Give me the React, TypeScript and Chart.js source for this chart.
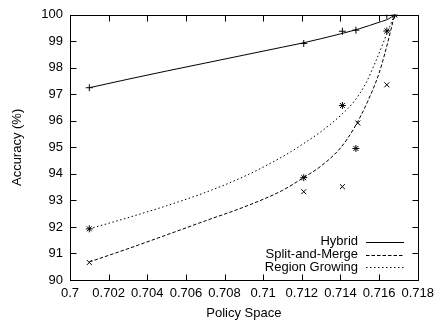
import React, { useEffect, useRef } from "react";
import { Chart, registerables } from "chart.js";

Chart.register(...registerables);

// Tick labels
const xTickValues = [0.7, 0.702, 0.704, 0.706, 0.708, 0.71, 0.712, 0.714, 0.716, 0.718];
const xTickLabels = ["0.7", "0.702", "0.704", "0.706", "0.708", "0.71", "0.712", "0.714", "0.716", "0.718"];
const yTickValues = [90, 91, 92, 93, 94, 95, 96, 97, 98, 99, 100];

// Measured points
const hybridX = [0.701, 0.7121, 0.7141, 0.7148, 0.7164, 0.7168];
const hybridY = [97.25, 98.92, 99.38, 99.42, 99.98, 100];
const splitX = [0.701, 0.7121, 0.7141, 0.7149, 0.7164, 0.7168];
const splitY = [90.66, 93.33, 93.52, 95.92, 97.36, 100];
const regionX = [0.701, 0.7121, 0.7141, 0.7148, 0.7164, 0.7168];
const regionY = [91.93, 93.86, 96.58, 94.96, 99.39, 100];

// Fitted curves
const hybridCurveX = [0.701, 0.703, 0.705, 0.707, 0.709, 0.711, 0.712, 0.713, 0.714, 0.715, 0.716, 0.7165, 0.7168];
const hybridCurveY = [97.25, 97.57, 97.88, 98.18, 98.48, 98.78, 98.93, 99.1, 99.28, 99.48, 99.72, 99.85, 100];
const splitCurveX = [0.701, 0.703, 0.705, 0.707, 0.709, 0.711, 0.712, 0.713, 0.714, 0.7147, 0.7154, 0.716, 0.7163, 0.7166, 0.7168];
const splitCurveY = [90.68, 91.18, 91.7, 92.23, 92.75, 93.38, 93.82, 94.3, 94.98, 95.72, 96.72, 97.8, 98.55, 99.4, 100];
const regionCurveX = [0.701, 0.703, 0.705, 0.707, 0.709, 0.711, 0.712, 0.713, 0.714, 0.7147, 0.7153, 0.7158, 0.7163, 0.7168];
const regionCurveY = [91.93, 92.35, 92.8, 93.3, 93.9, 94.65, 95.1, 95.6, 96.2, 96.73, 97.4, 98.2, 99.1, 100];

const legendLabels = ["Hybrid", "Split-and-Merge", "Region Growing"];
const legendDashes: number[][] = [[], [3.5, 2], [1.5, 2.5]];

const FONT = "'Liberation Sans', Arial, Helvetica, sans-serif";

const zip = (xs: number[], ys: number[]) => xs.map((x, i) => ({ x, y: ys[i] }));

const framePlugin = {
  id: "frame",
  afterDraw(chart: any) {
    const { ctx, chartArea } = chart;
    const xs = chart.scales.x;
    const ys = chart.scales.y;
    const l = Math.round(chartArea.left) + 0.5;
    const r = Math.round(chartArea.right) + 0.5;
    const t = Math.round(chartArea.top) + 0.5;
    const b = Math.round(chartArea.bottom) + 0.5;
    ctx.save();
    ctx.strokeStyle = "#000";
    ctx.lineWidth = 1;
    ctx.setLineDash([]);
    ctx.strokeRect(l, t, r - l, b - t);
    const tl = 6;
    ctx.beginPath();
    xTickValues.forEach((v) => {
      const px = Math.round(xs.getPixelForValue(v)) + 0.5;
      ctx.moveTo(px, b);
      ctx.lineTo(px, b - tl);
      ctx.moveTo(px, t);
      ctx.lineTo(px, t + tl);
    });
    yTickValues.forEach((v) => {
      const py = Math.round(ys.getPixelForValue(v)) + 0.5;
      ctx.moveTo(l, py);
      ctx.lineTo(l + tl, py);
      ctx.moveTo(r, py);
      ctx.lineTo(r - tl, py);
    });
    ctx.stroke();

    // legend
    ctx.font = "13px " + FONT;
    ctx.fillStyle = "#000";
    ctx.textAlign = "right";
    ctx.textBaseline = "middle";
    const rowY = [241.7, 254.5, 267.3];
    legendLabels.forEach((lab, i) => {
      ctx.fillText(lab, 358, rowY[i]);
      ctx.beginPath();
      ctx.setLineDash(legendDashes[i]);
      ctx.moveTo(366, Math.round(rowY[i]) + 0.5);
      ctx.lineTo(404, Math.round(rowY[i]) + 0.5);
      ctx.stroke();
    });
    ctx.restore();
  },
};

export default function App() {
  const ref = useRef<HTMLCanvasElement | null>(null);
  useEffect(() => {
    if (!ref.current) return;
    const curve = (xs: number[], ys: number[], dash: number[]) => ({
      type: "line" as const,
      data: zip(xs, ys),
      borderColor: "#000",
      borderWidth: 1,
      borderDash: dash,
      pointRadius: 0,
      cubicInterpolationMode: "monotone" as const,
      fill: false,
    });
    const pts = (xs: number[], ys: number[], style: string, r: number) => ({
      type: "scatter" as const,
      data: zip(xs, ys),
      borderColor: "#000",
      backgroundColor: "#000",
      borderWidth: 1,
      pointStyle: style,
      pointRadius: r,
      showLine: false,
    });
    const chart = new Chart(ref.current, {
      type: "scatter",
      data: {
        datasets: [
          curve(hybridCurveX, hybridCurveY, []),
          curve(splitCurveX, splitCurveY, legendDashes[1]),
          curve(regionCurveX, regionCurveY, legendDashes[2]),
          pts(hybridX, hybridY, "cross", 3.5),
          pts(splitX, splitY, "crossRot", 3.5),
          pts(regionX, regionY, "star", 3.5),
        ] as any,
      },
      plugins: [framePlugin],
      options: {
        animation: false,
        responsive: false,
        events: [],
        layout: { padding: { top: 12.7, right: 20, left: 0, bottom: 0 } },
        plugins: { legend: { display: false }, tooltip: { enabled: false } },
        scales: {
          x: {
            type: "linear",
            min: 0.7,
            max: 0.718,
            grid: { display: false, drawTicks: false },
            border: { display: false },
            afterBuildTicks: (s: any) => {
              s.ticks = xTickValues.map((v) => ({ value: v }));
            },
            afterFit: (s: any) => {
              s.height = 40;
            },
            ticks: {
              autoSkip: false,
              maxRotation: 0,
              padding: 6,
              color: "#000",
              font: { family: FONT, size: 13 },
              callback: (_v: any, i: number) => xTickLabels[i],
            },
            title: {
              display: true,
              text: "Policy Space",
              color: "#000",
              font: { family: FONT, size: 13, lineHeight: 1 },
              padding: 0,
            },
          },
          y: {
            type: "linear",
            min: 90,
            max: 100,
            grid: { display: false, drawTicks: false },
            border: { display: false },
            afterBuildTicks: (s: any) => {
              s.ticks = yTickValues.map((v) => ({ value: v }));
            },
            afterFit: (s: any) => {
              s.width = 70;
            },
            ticks: {
              padding: 7,
              color: "#000",
              font: { family: FONT, size: 13 },
              callback: (v: any) => String(v),
            },
            title: {
              display: true,
              text: "Accuracy (%)",
              color: "#000",
              font: { family: FONT, size: 13 },
              padding: { top: 10, bottom: 0 },
            },
          },
        },
      } as any,
    });
    return () => chart.destroy();
  }, []);
  return (
    <div style={{ position: "absolute", left: 0, top: 0, width: 440, height: 320, background: "#fff" }}>
      <canvas ref={ref} width={440} height={320} style={{ width: 440, height: 320 }} />
    </div>
  );
}
